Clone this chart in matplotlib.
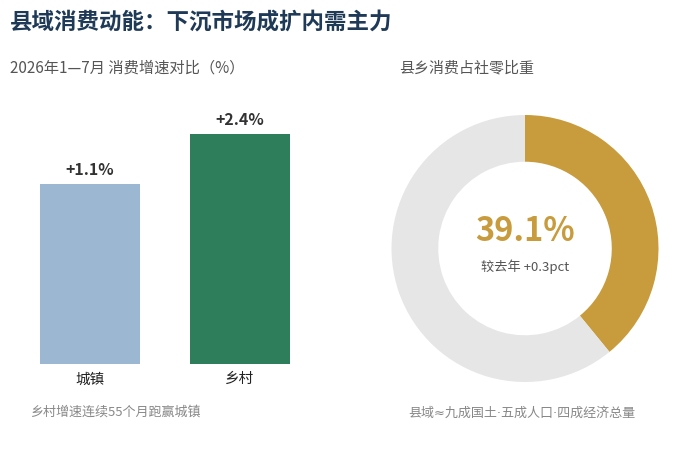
import matplotlib
matplotlib.use('Agg')
import matplotlib.pyplot as plt

plt.rcParams['font.family'] = ['Noto Sans CJK SC', 'DejaVu Sans']

# 数据
categories = ['城镇', '乡村']
growth = [1.1, 2.4]
bar_colors = ['#9BB7D1', '#2E7D5B']
share = 39.1
share_change = '+0.3pct'

W, H = 676, 468
fig = plt.figure(figsize=(W / 100, H / 100), dpi=100)
fig.patch.set_facecolor('white')

def px(x, y):
    return x / W, 1 - y / H

# 标题
fig.text(*px(10, 22), '县域消费动能：下沉市场成扩内需主力', fontsize=16.2,
         fontweight='bold', color='#1F3A56', va='center', ha='left')
fig.text(*px(10, 68), '2026年1—7月 消费增速对比（%）', fontsize=11,
         color='#555555', va='center', ha='left')
fig.text(*px(467, 68), '县乡消费占社零比重', fontsize=10.8,
         color='#555555', va='center', ha='center')

# 柱状图
ax = fig.add_axes([15 / W, 1 - 364 / H, 300 / W, 264 / H])
ymin, ymax = -3.58, 3.28
x = range(len(categories))
ax.bar(x, [v - ymin for v in growth], bottom=ymin, width=0.667, color=bar_colors)
for i, v in enumerate(growth):
    ax.text(i, v + 0.15, f'+{v}%', ha='center', va='bottom', fontsize=11.5,
            fontweight='bold', color='#333333')
ax.set_xlim(-0.5, 1.5)
ax.set_ylim(ymin, ymax)
ax.set_xticks(list(x))
ax.set_xticklabels(categories, fontsize=10.5, color='#222222')
ax.tick_params(axis='x', length=0, pad=6)
ax.set_yticks([])
for s in ax.spines.values():
    s.set_visible(False)

fig.text(*px(30, 412), '乡村增速连续55个月跑赢城镇', fontsize=9.4,
         color='#888888', va='center', ha='left')

# 环形图
cx, cy, r = 525, 248.5, 133.5
ax2 = fig.add_axes([(cx - r) / W, 1 - (cy + r) / H, 2 * r / W, 2 * r / H])
ax2.pie([share, 100 - share], colors=['#C89B3C', '#E6E6E6'], startangle=90,
        counterclock=False, radius=1, wedgeprops=dict(width=0.35, linewidth=0))
ax2.set_xlim(-1, 1)
ax2.set_ylim(-1, 1)
ax2.set_aspect('equal')
ax2.axis('off')
ax2.text(0, 0.13, f'{share}%', ha='center', va='center', fontsize=23.5,
         fontweight='bold', color='#C89B3C')
ax2.text(0, -0.14, f'较去年 {share_change}', ha='center', va='center',
         fontsize=9.5, color='#555555')

fig.text(*px(522, 413), '县域≈九成国土·五成人口·四成经济总量', fontsize=9.4,
         color='#888888', va='center', ha='center',
         family=['DejaVu Sans', 'Noto Sans CJK SC'])

fig.savefig('out.png', dpi=100)
